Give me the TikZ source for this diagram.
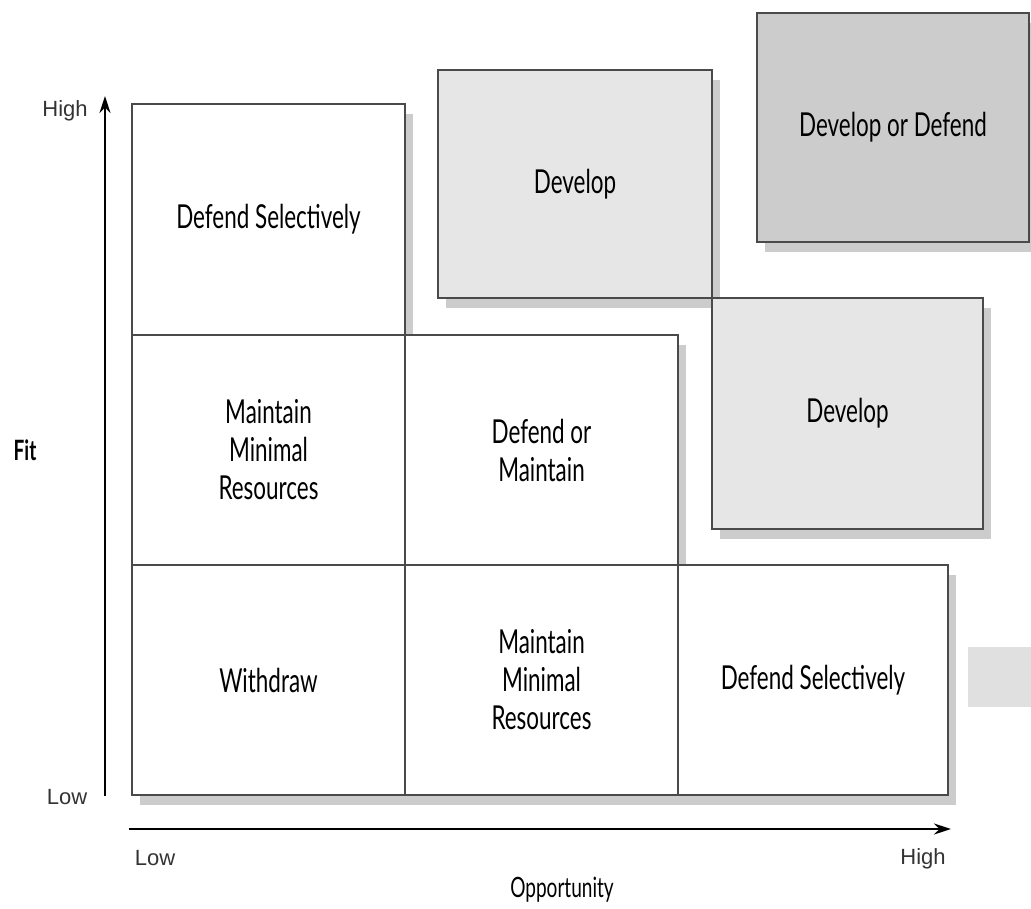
\documentclass[tikz,border=0pt]{standalone}
\usepackage{fontspec}
\setmainfont{Lato}[FakeStretch=0.68]
\newfontfamily\axisfont{Liberation Sans}
\usetikzlibrary{shadows,arrows.meta}
\definecolor{boxline}{HTML}{4A4A4A}
\definecolor{shadowgray}{HTML}{CCCCCC}
\definecolor{lightfill}{HTML}{E6E6E6}
\definecolor{darkfill}{HTML}{CCCCCC}
\definecolor{keyfill}{HTML}{E0E0E0}
\tikzset{
  cell/.style={draw=boxline, line width=1.3pt, fill=white, inner sep=0pt,
    align=center, font=\fontsize{33}{38}\selectfont,
    drop shadow={shadow xshift=8pt, shadow yshift=-10pt, fill=shadowgray, opacity=1}},
  lightcell/.style={cell, fill=lightfill},
  darkcell/.style={cell, fill=darkfill},
  axislabel/.style={font=\axisfont\fontsize{22}{26}\selectfont, text=black!80, inner sep=0pt},
  axistitle/.style={font=\fontsize{28}{32}\selectfont, inner sep=0pt},
  axisarrow/.style={line width=1.8pt, -{Stealth[length=17pt,width=11pt]}}
}
\begin{document}
\begin{tikzpicture}[x=1pt,y=-1pt]
\useasboundingbox (0,0) rectangle (1031,909);
% top row
\node[cell, minimum width=273pt, minimum height=231pt] (ds1) at (268.5,219.5) {Defend Selectively};
\node[lightcell, minimum width=274pt, minimum height=228pt] (dev1) at (575,184) {Develop};
\node[darkcell, minimum width=272pt, minimum height=229pt] (dod) at (893,127.5) {Develop or Defend};
\node[lightcell, minimum width=271pt, minimum height=231pt] (dev2) at (847.5,413.5) {Develop};
% middle row
\node[cell, minimum width=273pt, minimum height=230pt] (mmr1) at (268.5,450) {Maintain\\Minimal\\Resources};
\node[cell, minimum width=273pt, minimum height=230pt] (dom) at (541.5,450) {Defend or\\Maintain};
% bottom row
\node[cell, minimum width=273pt, minimum height=230pt] (wd) at (268.5,680) {Withdraw};
\node[cell, minimum width=273pt, minimum height=230pt] (mmr2) at (541.5,680) {Maintain\\Minimal\\Resources};
\node[cell, minimum width=270pt, minimum height=230pt] (ds2) at (813,680) {Defend Selectively};
% key swatch
\node[fill=keyfill, inner sep=0pt, minimum width=63pt, minimum height=60pt] (key) at (999.5,677) {};
% axes
\coordinate (ybot) at (105,796);
\coordinate (ytop) at (105,96);
\coordinate (xleft) at (129,829);
\coordinate (xright) at (951,829);
\draw[axisarrow] (ybot) -- (ytop);
\draw[axisarrow] (xleft) -- (xright);
\node[axislabel] (yhigh) at (65,111) {High};
\node[axislabel] (ylow) at (67,797) {Low};
\node[axislabel] (xlow) at (155,858) {Low};
\node[axislabel] (xhigh) at (923,859) {High};
\node[axistitle, font=\bfseries\fontsize{28}{32}\selectfont] (fit) at (25,450) {Fit};
\node[axistitle] (opp) at (562,890) {Opportunity};
\end{tikzpicture}
\end{document}
